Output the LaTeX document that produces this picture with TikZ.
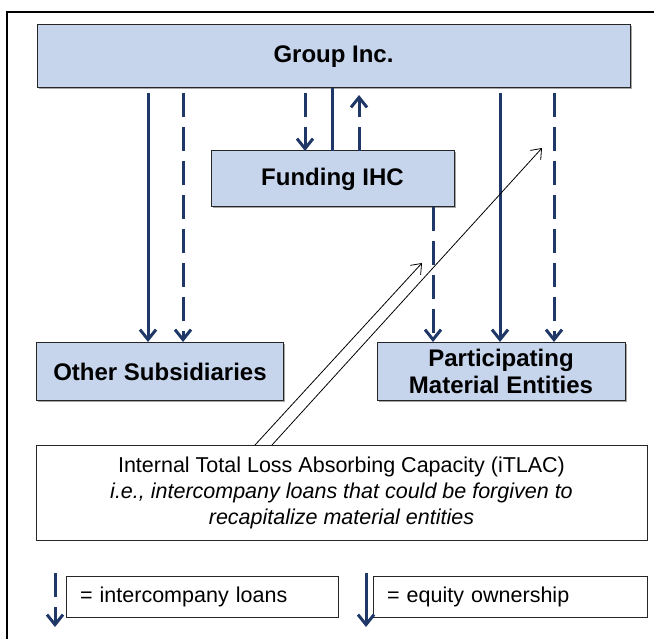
\documentclass[tikz,border=0pt]{standalone}
\usepackage{fontspec}
\setmainfont{Liberation Sans}
\usetikzlibrary{arrows.meta,shadows}
\definecolor{navy}{RGB}{31,56,104}
\definecolor{boxblue}{RGB}{198,212,236}
\begin{document}
\begin{tikzpicture}[x=1pt,y=-1pt,
  bluebox/.style={draw=black!85,line width=1pt,fill=boxblue,inner sep=0pt,outer sep=0pt,
    drop shadow={shadow xshift=1.5pt,shadow yshift=-1.5pt,fill=black!35,opacity=1},
    font=\fontsize{24}{28}\selectfont\bfseries,align=center},
  whitebox/.style={draw=black!85,line width=0.9pt,fill=white,inner sep=0pt,outer sep=0pt},
  eq/.style={draw=navy,line width=3pt,-{Straight Barb[length=10pt,width=16pt]}},
  eqline/.style={draw=navy,line width=3pt},
  loan/.style={draw=navy,line width=3pt,dash pattern=on 24pt off 10pt,-{Straight Barb[length=10pt,width=16pt]}},
  thinarrow/.style={draw=black,line width=0.8pt,-{Straight Barb[length=9pt,width=14pt]}},
  frame/.style={draw=black,line width=1.5pt}
]
\useasboundingbox (0,0) rectangle (654,639);
% outer frame (cut off at right and bottom)
\coordinate (fl) at (7,639);
\coordinate (fc) at (7,12);
\coordinate (fr) at (654,12);
\draw[frame] (fl) -- (fc) -- (fr);

% boxes
\node[bluebox,minimum width=593pt,minimum height=63pt] (group) at (333.5,56.5) {Group Inc.};
\node[bluebox,minimum width=243pt,minimum height=56pt] (ihc) at (332.5,179) {Funding IHC};
\node[bluebox,minimum width=247pt,minimum height=57pt] (other) at (160,371.5) {Other Subsidiaries};
\node[bluebox,minimum width=248pt,minimum height=57pt] (pme) at (501,371.5) {Participating\\[-1pt]Material Entities};
\node[whitebox,minimum width=611pt,minimum height=95pt,align=center,
  font=\fontsize{21.5}{26}\selectfont] (itlac) at (341.5,492.5)
  {Internal Total Loss Absorbing Capacity (iTLAC)\\
   \itshape i.e., intercompany loans that could be forgiven to\\
   \itshape recapitalize material entities};
\node[whitebox,minimum height=41pt,text width=244pt,inner xsep=14pt,align=left,
  font=\fontsize{21.5}{25}\selectfont] (leg1) at (202,596.5) {= intercompany loans};
\node[whitebox,minimum height=41pt,text width=246pt,inner xsep=14pt,align=left,
  font=\fontsize{21.5}{25}\selectfont] (leg2) at (510,596.5) {= equity ownership};

% x positions of connectors
\coordinate (c1) at (148,0);
\coordinate (c2) at (183,0);
\coordinate (c3) at (305,0);
\coordinate (c4) at (332,0);
\coordinate (c5) at (359,0);
\coordinate (c6) at (433,0);
\coordinate (c7) at (500,0);
\coordinate (c8) at (554,0);

% group -> other subsidiaries
\draw[eq] ([yshift=-5pt]group.south -| c1) -- ([yshift=1pt]other.north -| c1);
\draw[loan] ([yshift=-5pt]group.south -| c2) -- ([yshift=1pt]other.north -| c2);
% group <-> funding IHC
\draw[loan] ([yshift=-5pt]group.south -| c3) -- (ihc.north -| c3);
\draw[eqline] (group.south -| c4) -- (ihc.north -| c4);
\draw[loan] (ihc.north -| c5) -- ([yshift=-7pt]group.south -| c5);
% funding IHC -> PME
\draw[loan] (ihc.south -| c6) -- ([yshift=1pt]pme.north -| c6);
% group -> PME
\draw[eq] ([yshift=-5pt]group.south -| c7) -- ([yshift=1pt]pme.north -| c7);
\draw[loan] ([yshift=-5pt]group.south -| c8) -- ([yshift=1pt]pme.north -| c8);

% iTLAC pointers
\coordinate (t1) at (255,445);
\coordinate (h1) at (422,263);
\coordinate (t2) at (272,445);
\coordinate (h2) at (542,148);
\draw[thinarrow] (t1) -- (h1);
\draw[thinarrow] (t2) -- (h2);

% legend arrows
\coordinate (la1) at (55,573);
\coordinate (la2) at (55,627);
\coordinate (lb1) at (366,573);
\coordinate (lb2) at (366,627);
\draw[loan] (la1) -- (la2);
\draw[eq] (lb1) -- (lb2);
\end{tikzpicture}
\end{document}
